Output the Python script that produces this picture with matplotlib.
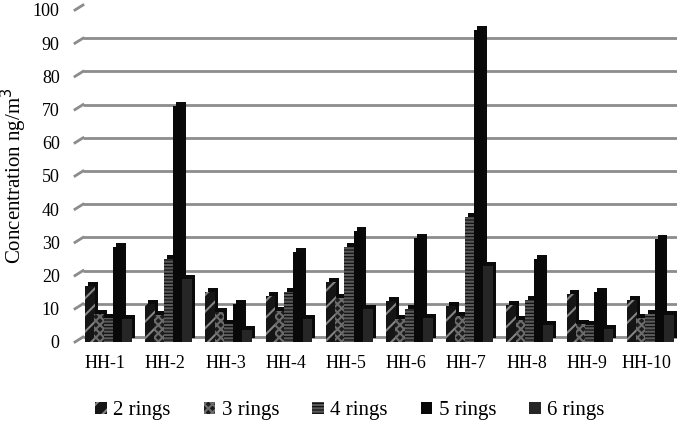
import matplotlib
matplotlib.use("Agg")
import matplotlib.pyplot as plt
import matplotlib.transforms as mtransforms
from matplotlib.patches import Patch
import numpy as np

categories = ["HH-1", "HH-2", "HH-3", "HH-4", "HH-5", "HH-6", "HH-7", "HH-8", "HH-9", "HH-10"]
series_names = ["2 rings", "3 rings", "4 rings", "5 rings", "6 rings"]
rings2 = [16.8, 11.3, 15.0, 13.8, 18.0, 12.3, 10.8, 11.0, 14.5, 12.6]
rings3 = [8.3, 8.0, 9.0, 9.3, 13.2, 6.8, 7.8, 6.6, 5.5, 7.1]
rings4 = [7.1, 25.0, 5.3, 15.0, 28.7, 9.8, 37.6, 12.6, 5.0, 8.3]
rings5 = [28.6, 71.0, 11.3, 27.0, 33.5, 31.4, 94.0, 25.0, 15.0, 31.0]
rings6 = [7.0, 19.0, 3.6, 6.8, 9.8, 7.3, 23.0, 5.1, 3.8, 8.0]
yticks = [0, 10, 20, 30, 40, 50, 60, 70, 80, 90, 100]

series = [rings2, rings3, rings4, rings5, rings6]
faces = ["#151515", "#1c1c1c", "#121212", "#080808", "#262626"]
hatches = ["//", "xxxx", "-----", None, None]
hatch_cols = ["#858585", "#6c6c6c", "#5a5a5a", "#080808", "#262626"]

plt.rcParams["font.family"] = ["Liberation Serif", "DejaVu Serif"]
plt.rcParams["hatch.linewidth"] = 1.5

fig = plt.figure(figsize=(6.9, 4.29), dpi=100)
ax = fig.add_axes([75 / 690, 1 - 342 / 429, (677 - 75) / 690, (342 - 10) / 429])
ax.set_xlim(-0.5, len(categories) - 0.5)
ax.set_ylim(0, 100)
for s in ax.spines.values():
    s.set_visible(False)

# back-wall gridlines with diagonal connector ticks
back = ax.transData + mtransforms.ScaledTranslation(8 / 100, 5 / 100, fig.dpi_scale_trans)
for t in yticks:
    ax.plot([-0.5, len(categories) - 0.5 - 0.1], [t, t], color="#8c8c8c", lw=2.0,
            transform=back, zorder=1, solid_capstyle="butt")
    x0, y0 = ax.transData.transform((-0.5, t))
    x1, y1 = back.transform((-0.5, t))
    ax.plot([x0, x1], [y0, y1], color="#8c8c8c", lw=2.0, transform=None, zorder=1,
            clip_on=False)

x = np.arange(len(categories))
step = 0.154
width = 0.162
shadow = ax.transData + mtransforms.ScaledTranslation(3 / 100, 4 / 100, fig.dpi_scale_trans)
for j, vals in enumerate(series):
    pos = x + (j - 2) * step + 0.055
    ax.bar(pos, vals, width=width, color="#0a0a0a", edgecolor="none", linewidth=0,
           transform=shadow, zorder=3 + 2 * j)
    ax.bar(pos, vals, width=width, color=faces[j], edgecolor=hatch_cols[j],
           hatch=hatches[j], linewidth=0, zorder=4 + 2 * j)

ax.set_yticks(yticks)
ax.set_yticklabels([str(t) for t in yticks], fontsize=13)
ax.set_xticks(x)
ax.set_xticklabels(categories, fontsize=13)
ax.tick_params(axis="both", length=0)
ax.tick_params(axis="y", pad=11)
ax.tick_params(axis="x", pad=9)
ax.set_ylabel("Concentration ng/m$^3$", fontsize=15, labelpad=3)

handles = [Patch(facecolor=faces[j], edgecolor=hatch_cols[j], hatch=hatches[j], linewidth=0)
           for j in range(5)]
leg = fig.legend(handles, series_names, loc="center", bbox_to_anchor=(350 / 690, 1 - 411 / 429),
                 ncol=5, frameon=False, fontsize=15, handlelength=0.55, handleheight=0.55,
                 handletextpad=0.3, columnspacing=1.6)

fig.savefig("out.png", dpi=100)
